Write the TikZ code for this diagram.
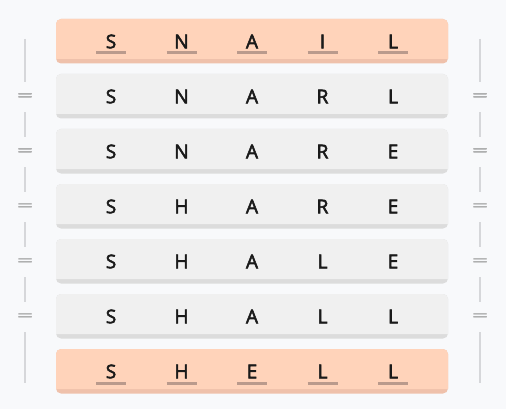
\documentclass[tikz,border=0pt]{standalone}
\usepackage{fontspec}
\setmainfont{Open Sans}
\newfontfamily\semibf[FakeBold=2.8]{Open Sans}
\newfontfamily\eqbf[FakeBold=1.5]{Open Sans}
\definecolor{bg}{HTML}{F8F9FB}
\definecolor{hiface}{HTML}{FFD3BA}
\definecolor{hishade}{HTML}{EFC1AB}
\definecolor{loface}{HTML}{F0F0F0}
\definecolor{loshade}{HTML}{DCDCDC}
\definecolor{uline}{HTML}{BA9A8C}
\definecolor{rail}{HTML}{D6D7DA}
\definecolor{eqc}{HTML}{9A9A9A}
\definecolor{ink}{HTML}{1A1A1A}
\tikzset{
  letter/.style={text=ink, font=\semibf\fontsize{19}{19}\selectfont, inner sep=0pt, anchor=center},
  equ/.style={text=eqc, inner sep=0pt, minimum height=30pt, minimum width=16pt, font=\eqbf\fontsize{15}{15}\selectfont},
  railline/.style={draw=rail, line width=2pt},
  ulstyle/.style={draw=uline, line width=3pt}
}
\newcommand{\wordrow}[4]{%
  \fill[#3shade, rounded corners=5pt] (56,#2) rectangle (448,#2+44.5);
  \fill[#3face] (56,#2+40) [rounded corners=5pt] -- (56,#2) -- (448,#2) [sharp corners] -- (448,#2+40) -- cycle;
  \foreach \ch [count=\k] in {#4} {
    \node[letter] (r#1c\k) at ({111+70.5*(\k-1)},#2+22.5) {\ch};
  }
}
\begin{document}
\begin{tikzpicture}[x=1pt,y=-1pt]
\fill[bg] (0,0) rectangle (506,409);
\useasboundingbox (0,0) rectangle (506,409);
\wordrow{1}{19}{hi}{S,N,A,I,L}
\wordrow{2}{74}{lo}{S,N,A,R,L}
\wordrow{3}{129}{lo}{S,N,A,R,E}
\wordrow{4}{184}{lo}{S,H,A,R,E}
\wordrow{5}{239}{lo}{S,H,A,L,E}
\wordrow{6}{294}{lo}{S,H,A,L,L}
\wordrow{7}{349}{hi}{S,H,E,L,L}
\foreach \k in {1,...,5} {
  \draw[ulstyle] ([xshift=-15pt]r1c\k |- 0,53) -- ([xshift=15pt]r1c\k |- 0,53);
  \draw[ulstyle] ([xshift=-15pt]r7c\k |- 0,383) -- ([xshift=15pt]r7c\k |- 0,383);
}
\coordinate (lt) at (25,39);
\coordinate (lb) at (25,383);
\coordinate (rt) at (480,39);
\coordinate (rb) at (480,383);
\foreach \i/\y in {2/97,3/152,4/207,5/262,6/317} {
  \node[equ] (le\i) at (25,\y) {\scalebox{1.9}[1]{=}};
  \node[equ] (re\i) at (480,\y) {\scalebox{1.9}[1]{=}};
}
\draw[railline] (lt) -- (le2.north);
\draw[railline] (le2.south) -- (le3.north);
\draw[railline] (le3.south) -- (le4.north);
\draw[railline] (le4.south) -- (le5.north);
\draw[railline] (le5.south) -- (le6.north);
\draw[railline] (le6.south) -- (lb);
\draw[railline] (rt) -- (re2.north);
\draw[railline] (re2.south) -- (re3.north);
\draw[railline] (re3.south) -- (re4.north);
\draw[railline] (re4.south) -- (re5.north);
\draw[railline] (re5.south) -- (re6.north);
\draw[railline] (re6.south) -- (rb);
\end{tikzpicture}
\end{document}
